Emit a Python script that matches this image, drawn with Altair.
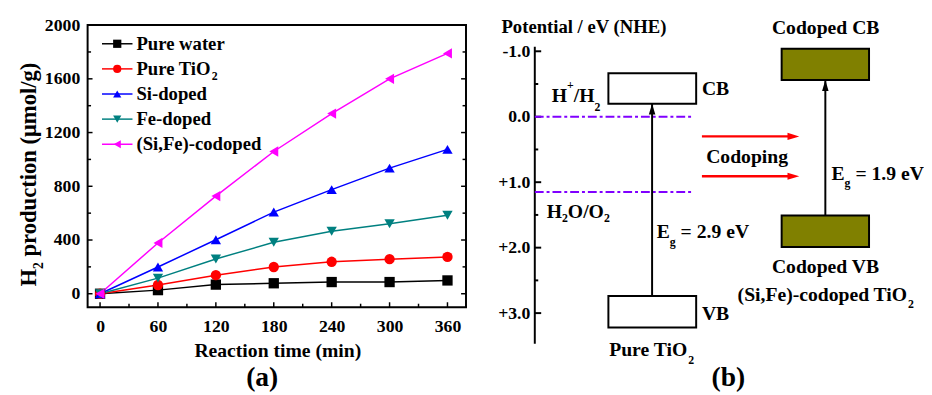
import altair as alt
import pandas as pd

FONT = "'Liberation Serif', 'Times New Roman', Times, serif"

# ---------------- panel (a) data ----------------
times = [0, 60, 120, 180, 240, 300, 360]
series_names = ["Pure water", "Pure TiO2", "Si-doped", "Fe-doped", "(Si,Fe)-codoped"]
pure_water = [0, 27, 68, 78, 87, 87, 99]
pure_tio2 = [0, 65, 138, 199, 238, 257, 274]
si_doped = [0, 199, 402, 608, 775, 935, 1075]
fe_doped = [0, 116, 259, 383, 465, 521, 584]
codoped = [0, 378, 727, 1059, 1341, 1600, 1789]
series_colors = ["#000000", "#ff0000", "#0000ff", "#008080", "#ff00ff"]
series_shapes = ["square", "circle", "triangle-up", "triangle-down", "triangle-left"]
x_ticks_a = [0, 60, 120, 180, 240, 300, 360]
y_ticks_a = [0, 400, 800, 1200, 1600, 2000]

# ---------------- panel (b) data ----------------
pure_cb = [-0.665, -0.20]
pure_vb = [2.74, 3.22]
codoped_cb = [-1.04, -0.56]
codoped_vb = [1.51, 1.99]
redox_levels = [0.0, 1.15]
potential_ticks = [-1.0, 0.0, 1.0, 2.0, 3.0]
potential_minor = [-0.5, 0.5, 1.5, 2.5]

# ---------------- layout ----------------
WA, HA = 385, 287
XA = [-12.9, 379.2]
YA = [-100, 2000]
WB, HB = 390, 333
XB = [0, 100]
YB = [-1.4, 3.6]
pxa_x = WA / (XA[1] - XA[0])
pxa_y = HA / (YA[1] - YA[0])
pxb_x = WB / (XB[1] - XB[0])
pxb_y = HB / (YB[1] - YB[0])

# Times bold advance widths (per 1000 em)
W = {" ": 250, "(": 333, ")": 333, "+": 570, ",": 250, "-": 333, ".": 250, "/": 278,
     "=": 570, "A": 722, "B": 667, "C": 722, "D": 722, "E": 667, "F": 611, "H": 778,
     "N": 722, "O": 778, "P": 611, "R": 722, "S": 556, "T": 667, "V": 722,
     "a": 500, "c": 444, "d": 556, "e": 444, "g": 500, "i": 278, "l": 278, "m": 833,
     "n": 556, "o": 500, "p": 556, "r": 444, "s": 389, "t": 333, "u": 556, "w": 722,
     "μ": 556}


def tw(s, size):
    return sum(W.get(c, 500) for c in s) * size / 1000.0


sxa = alt.Scale(domain=XA, nice=False, zero=False)
sya = alt.Scale(domain=YA, nice=False, zero=False)
axis_xa = alt.Axis(values=x_ticks_a, title=None, grid=False, ticks=False, domain=False,
                   labelPadding=11, labelFont=FONT, labelFontSize=18, labelFontWeight="bold",
                   labelColor="black", format="d")
axis_ya = alt.Axis(values=y_ticks_a, title=None, grid=False, ticks=False, domain=False,
                   labelPadding=8, labelFont=FONT, labelFontSize=18, labelFontWeight="bold",
                   labelColor="black", format="d")

sxb = alt.Scale(domain=XB, nice=False, zero=False)
syb = alt.Scale(domain=YB, nice=False, zero=False, reverse=True)
axis_yb = alt.Axis(values=potential_ticks, title=None, grid=False, ticks=False, domain=False,
                   labelPadding=5, labelFont=FONT, labelFontSize=18, labelFontWeight="bold",
                   labelColor="black",
                   labelExpr="datum.value < 0 ? '-' + format(-datum.value, '.1f') : (datum.value > 0 ? '+' + format(datum.value, '.1f') : format(datum.value, '.1f'))")


def xa(f):
    return alt.X(f, type="quantitative", scale=sxa, axis=axis_xa)


def ya(f):
    return alt.Y(f, type="quantitative", scale=sya, axis=axis_ya)


def xb(f):
    return alt.X(f, type="quantitative", scale=sxb, axis=None)


def yb(f):
    return alt.Y(f, type="quantitative", scale=syb, axis=axis_yb)


def rich(pieces, xv, yv, xenc, yenc, align="left", angle=0):
    widths = [tw(t, s) for t, s, _ in pieces]
    off = 0.0 if align == "left" else -sum(widths) / 2.0
    out = []
    for (t, s, dy), w in zip(pieces, widths):
        lead = len(t) - len(t.lstrip(" "))
        txt = t.strip(" ")
        df = pd.DataFrame({"x": [xv], "y": [yv], "label": [txt]})
        out.append(
            alt.Chart(df).mark_text(align="left", baseline="middle", font=FONT, fontWeight="bold",
                                    fontSize=s, dx=off + tw(" " * lead, s), dy=dy, angle=angle,
                                    color="black")
            .encode(x=xenc("x"), y=yenc("y"), text="label:N"))
        off += w
    return out


# ---------------- panel (a) ----------------
values = [pure_water, pure_tio2, si_doped, fe_doped, codoped]
rows = []
for i, (n, vals) in enumerate(zip(series_names, values)):
    for t, v in zip(times, vals):
        rows.append({"series": n, "order": i, "t": t, "v": v})
df_a = pd.DataFrame(rows)

color_scale = alt.Scale(domain=series_names, range=series_colors)
shape_scale = alt.Scale(domain=series_names, range=series_shapes)

layers_a = []
for i, n in enumerate(series_names):
    d = df_a[df_a.series == n]
    layers_a.append(alt.Chart(d).mark_line(strokeWidth=1.5).encode(
        x=xa("t"), y=ya("v"),
        color=alt.Color("series:N", scale=color_scale, legend=None)))
for i, n in enumerate(series_names):
    d = df_a[df_a.series == n]
    layers_a.append(alt.Chart(d).mark_point(filled=True, opacity=1, size=110).encode(
        x=xa("t"), y=ya("v"),
        color=alt.Color("series:N", scale=color_scale, legend=None),
        shape=alt.Shape("series:N", scale=shape_scale, legend=None)))

# inward ticks on left, right and bottom
tick_rows = []
maj = 5.0
mnr = 3.5
for v in range(0, 2001, 200):
    L = maj if v % 400 == 0 else mnr
    tick_rows.append({"x": XA[0], "x2": XA[0] + L / pxa_x, "y": v, "y2": v})
    tick_rows.append({"x": XA[1] - L / pxa_x, "x2": XA[1], "y": v, "y2": v})
for v in range(0, 361, 30):
    L = maj if v % 60 == 0 else mnr
    tick_rows.append({"x": v, "x2": v, "y": YA[0], "y2": YA[0] + L / pxa_y})
df_ticks_a = pd.DataFrame(tick_rows)
layers_a.append(alt.Chart(df_ticks_a).mark_rule(color="black", strokeWidth=1.5).encode(
    x=xa("x"), x2="x2", y=ya("y"), y2="y2"))

# legend drawn inside the plot
leg_top, leg_step = 1861, 187
leg_rows = []
for i, n in enumerate(series_names):
    leg_rows.append({"series": n, "y": leg_top - i * leg_step, "x0": 2.0, "x1": 33.6, "xm": 17.8})
df_leg = pd.DataFrame(leg_rows)
layers_a.append(alt.Chart(df_leg).mark_rule(strokeWidth=1.5).encode(
    x=xa("x0"), x2="x1", y=ya("y"),
    color=alt.Color("series:N", scale=color_scale, legend=None)))
layers_a.append(alt.Chart(df_leg).mark_point(filled=True, opacity=1, size=70).encode(
    x=xa("xm"), y=ya("y"),
    color=alt.Color("series:N", scale=color_scale, legend=None),
    shape=alt.Shape("series:N", scale=shape_scale, legend=None)))
leg_pieces = [[("Pure water", 19, 0)],
              [("Pure TiO", 19, 0), ("2", 12, 7)],
              [("Si-doped", 19, 0)],
              [("Fe-doped", 19, 0)],
              [("(Si,Fe)-codoped", 19, 0)]]
for i, p in enumerate(leg_pieces):
    layers_a += rich(p, 37.7, leg_top - i * leg_step, xa, ya)

# axis titles and panel label
layers_a += rich([("H", 23, 0), ("2", 14, 10), (" production (μmol/g)", 23, 0)],
                 -73.3, 53.4, xa, ya, align="left", angle=270)
layers_a += rich([("Reaction time (min)", 20, 0)], 184.3, -425, xa, ya, align="center")
layers_a += rich([("(a)", 28, 0)], 168, -627, xa, ya, align="center")

panel_a = alt.layer(*layers_a).properties(
    width=WA, height=HA, view=alt.ViewBackground(stroke="black", strokeWidth=2))

# ---------------- panel (b) ----------------
layers_b = []
boxes = pd.DataFrame({
    "x": [19.2, 19.2, 64.4, 64.4],
    "x2": [42.1, 42.1, 87.2, 87.2],
    "y": [pure_cb[0], pure_vb[0], codoped_cb[0], codoped_vb[0]],
    "y2": [pure_cb[1], pure_vb[1], codoped_cb[1], codoped_vb[1]],
    "kind": ["pure", "pure", "codoped", "codoped"],
})
layers_b.append(alt.Chart(boxes).mark_rect(stroke="black", strokeWidth=2).encode(
    x=xb("x"), x2="x2", y=yb("y"), y2="y2",
    fill=alt.Fill("kind:N", scale=alt.Scale(domain=["pure", "codoped"], range=["#ffffff", "#808000"]),
                  legend=None)))

# axis line and inward ticks
axis_line = pd.DataFrame({"x": [0.0], "y": [-1.07], "y2": [3.47]})
layers_b.append(alt.Chart(axis_line).mark_rule(color="black", strokeWidth=2).encode(
    x=xb("x"), y=yb("y"), y2="y2"))
tb = [{"x": 0, "x2": 6.5 / pxb_x, "y": v} for v in potential_ticks] + \
     [{"x": 0, "x2": 3.5 / pxb_x, "y": v} for v in potential_minor]
layers_b.append(alt.Chart(pd.DataFrame(tb)).mark_rule(color="black", strokeWidth=2).encode(
    x=xb("x"), x2="x2", y=yb("y")))

# redox levels
redox = pd.DataFrame({"x": [0.0] * 2, "x2": [40.8] * 2, "y": redox_levels})
layers_b.append(alt.Chart(redox).mark_rule(color="#8000ff", strokeWidth=2,
                                           strokeDash=[9, 3, 3, 3]).encode(
    x=xb("x"), x2="x2", y=yb("y")))

# band gap arrows (black)
gap = pd.DataFrame({"x": [30.6, 75.8], "y": [pure_vb[0], codoped_vb[0]],
                    "y2": [pure_cb[1], codoped_cb[1]]})
layers_b.append(alt.Chart(gap).mark_rule(color="black", strokeWidth=2).encode(
    x=xb("x"), y=yb("y"), y2="y2"))
layers_b.append(alt.Chart(gap).mark_point(shape="M-0.6,2L0,0L0.6,2Z", filled=True, opacity=1,
                                          color="black", size=121).encode(
    x=xb("x"), y=yb("y2")))

# codoping arrows (red)
red_y = [0.30, 0.91]
red = pd.DataFrame({"x": [43.6, 43.6], "x2": [69.0 - 8 / pxb_x] * 2, "xt": [69.0, 69.0], "y": red_y})
layers_b.append(alt.Chart(red).mark_rule(color="#ff0000", strokeWidth=2.5).encode(
    x=xb("x"), x2="x2", y=yb("y")))
layers_b.append(alt.Chart(red).mark_point(shape="M-2,-0.6L0,0L-2,0.6Z", filled=True, opacity=1,
                                          color="#ff0000", size=144).encode(
    x=xb("xt"), y=yb("y")))

b_texts = [
    ([("Potential / eV (NHE)", 19, 0)], -8.7, -1.37, "left"),
    ([("Codoped CB", 20, 0)], 75.9, -1.36, "center"),
    ([("H", 20, 0), ("+", 12, -11), ("/H", 20, 0), ("2", 12, 11)], 4.4, -0.32, "left"),
    ([("CB", 20, 0)], 43.6, -0.42, "left"),
    ([("Codoping", 20, 0)], 55.4, 0.61, "center"),
    ([("E", 20, 0), ("g", 12, 10), (" = 1.9 eV", 20, 0)], 77.4, 0.87, "left"),
    ([("H", 20, 0), ("2", 12, 7), ("O/O", 20, 0), ("2", 12, 7)], 3.1, 1.45, "left"),
    ([("E", 20, 0), ("g", 12, 10), (" = 2.9 eV", 20, 0)], 31.8, 1.77, "left"),
    ([("Codoped VB", 20, 0)], 75.9, 2.29, "center"),
    ([("(Si,Fe)-codoped TiO", 20, 0), ("2", 12, 9)], 75.9, 2.73, "center"),
    ([("VB", 20, 0)], 43.6, 3.01, "left"),
    ([("Pure TiO", 20, 0), ("2", 12, 10)], 30.5, 3.56, "center"),
    ([("(b)", 28, 0)], 50.3, 3.99, "center"),
]
for p, xv, yv, al in b_texts:
    layers_b += rich(p, xv, yv, xb, yb, align=al)

panel_b = alt.layer(*layers_b).properties(
    width=WB, height=HB, view=alt.ViewBackground(stroke="transparent", strokeWidth=0))

chart = alt.hconcat(panel_a, panel_b, spacing=30).properties(
    padding={"left": 9, "top": 4, "right": 0, "bottom": 0}
).configure_view(strokeWidth=0).configure(background="white")

chart.save("out.html", embed_options={"renderer": "svg", "actions": False})
